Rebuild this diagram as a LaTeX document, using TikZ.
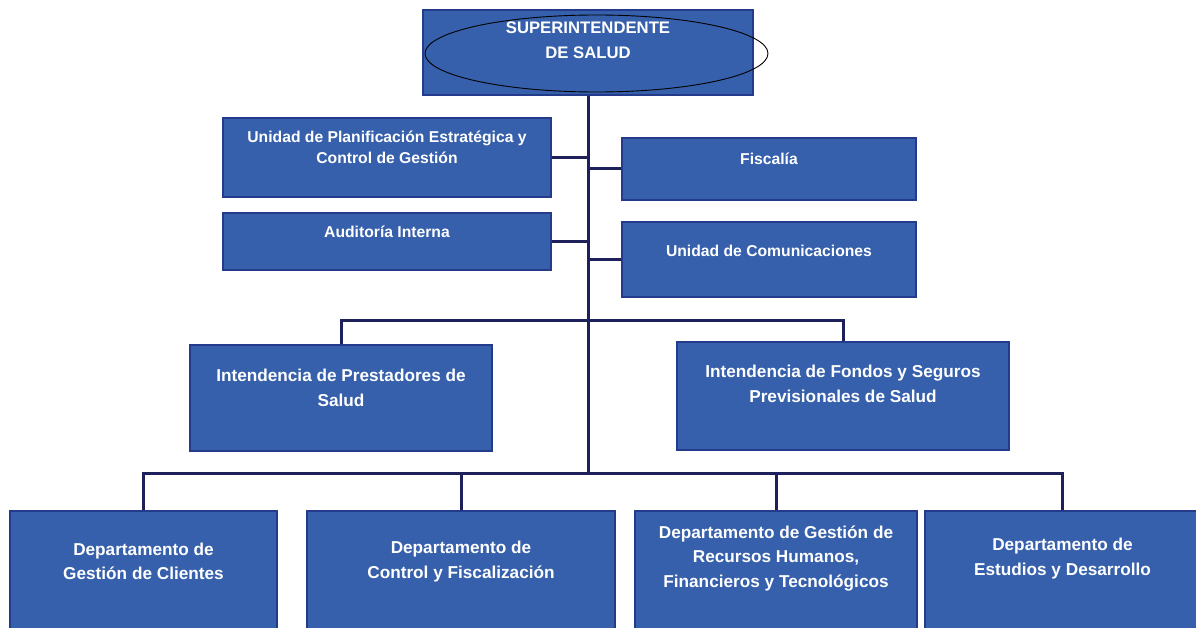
\documentclass[tikz,border=0pt]{standalone}
\usepackage{fontspec}
\setmainfont{Liberation Sans}
\definecolor{boxblue}{RGB}{54,96,172}
\definecolor{boxedge}{RGB}{36,58,138}
\definecolor{linknavy}{RGB}{30,32,92}
\tikzset{
  unit/.style={rectangle, draw=boxedge, fill=boxblue, line width=1.2pt, inner sep=0pt},
  toptxt/.style={text=white, align=center, inner sep=0pt, font=\bfseries\fontsize{16.7}{25}\selectfont},
  smalltxt/.style={text=white, align=center, inner sep=0pt, font=\bfseries\fontsize{15.7}{21}\selectfont},
  bigtxt/.style={text=white, align=center, inner sep=0pt, font=\bfseries\fontsize{17.2}{24.5}\selectfont},
  link/.style={draw=linknavy, line width=3pt},
}
\begin{document}
\begin{tikzpicture}[x=1pt,y=-1pt]
  \fill[white] (0,0) rectangle (1196,628);
  \useasboundingbox (0,0) rectangle (1196,628);
  \clip (0,0) rectangle (1196,628);
  % boxes
  \draw
    (588,52.5) node[unit, minimum width=330, minimum height=85] (sup){}
    (387,157.5) node[unit, minimum width=328, minimum height=79] (planif){}
    (387,241.5) node[unit, minimum width=328, minimum height=57] (audit){}
    (769,169) node[unit, minimum width=294, minimum height=62] (fisc){}
    (769,259.5) node[unit, minimum width=294, minimum height=75] (comun){}
    (341,398) node[unit, minimum width=302, minimum height=106] (prest){}
    (843,396) node[unit, minimum width=332, minimum height=108] (fondos){}
    (143.5,571.5) node[unit, minimum width=267, minimum height=121] (clientes){}
    (461,571.5) node[unit, minimum width=308, minimum height=121] (control){}
    (776,571.5) node[unit, minimum width=282, minimum height=121] (recursos){}
    (1062.5,571.5) node[unit, minimum width=275, minimum height=121] (estudios){};
  \draw[black, line width=0.9pt] (596.5,53.5) ellipse (171.5pt and 38.5pt);
  % texts
  \node[toptxt] (sup-t) at ([yshift=12pt]sup.center) {SUPERINTENDENTE\\DE SALUD};
  \node[smalltxt] (planif-t) at ([yshift=10pt]planif.center) {Unidad de Planificación Estratégica y\\Control de Gestión};
  \node[smalltxt] (audit-t) at ([yshift=10pt]audit.center) {Auditoría Interna};
  \node[smalltxt] (fisc-t) at ([yshift=10pt]fisc.center) {Fiscalía};
  \node[smalltxt] (comun-t) at ([yshift=9pt]comun.center) {Unidad de Comunicaciones};
  \node[bigtxt] (prest-t) at ([yshift=10pt]prest.center) {Intendencia de Prestadores de\\Salud};
  \node[bigtxt] (fondos-t) at ([yshift=12pt]fondos.center) {Intendencia de Fondos y Seguros\\Previsionales de Salud};
  \node[bigtxt] (clientes-t) at ([yshift=10pt]clientes.center) {Departamento de\\Gestión de Clientes};
  \node[bigtxt] (control-t) at ([yshift=10pt]control.center) {Departamento de\\Control y Fiscalización};
  \node[bigtxt] (recursos-t) at ([yshift=13pt]recursos.center) {Departamento de Gestión de\\Recursos Humanos,\\Financieros y Tecnológicos};
  \node[bigtxt] (estudios-t) at ([yshift=13pt]estudios.center) {Departamento de\\Estudios y Desarrollo};
  % connectors
  \coordinate (ibus) at (588,320);
  \coordinate (dbus) at (588,473);
  \begin{scope}[link]
    \draw (sup.south) -- (dbus);
    \draw (planif.east) -- (planif.east -| sup.south);
    \draw (audit.east) -- (audit.east -| sup.south);
    \draw (fisc.west) -- (fisc.west -| sup.south);
    \draw (comun.west) -- (comun.west -| sup.south);
    \draw (prest.north) |- (ibus) -| (fondos.north);
    \draw (clientes.north) |- (dbus) -| (estudios.north);
    \draw (control.north) -- (control.north |- dbus);
    \draw (recursos.north) -- (recursos.north |- dbus);
  \end{scope}
\end{tikzpicture}
\end{document}
